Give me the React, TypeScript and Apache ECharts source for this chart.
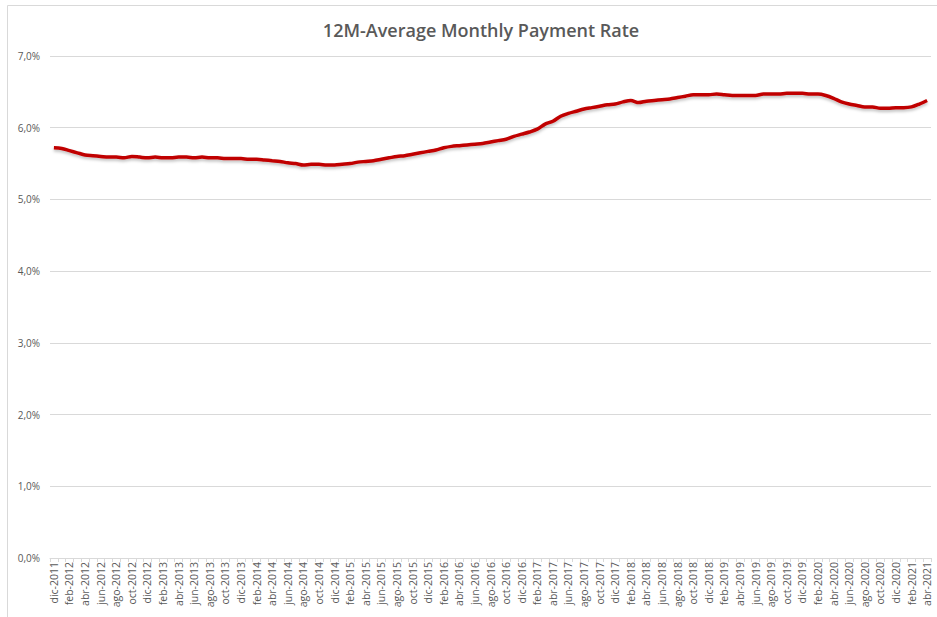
import React, { useEffect, useRef } from "react";
import * as echarts from "echarts";

const monthNames = ["ene", "feb", "mar", "abr", "may", "jun", "jul", "ago", "sep", "oct", "nov", "dic"];
const startYear = 2011;
const startMonth = 11; // dic
const titleText = "12M-Average Monthly Payment Rate";

// 12M-average monthly payment rate (%), dic-2011 .. abr-2021
const paymentRate = [
  5.72, 5.71, 5.68, 5.65, 5.62, 5.61, 5.60, 5.59, 5.59, 5.58, 5.60, 5.59,
  5.58, 5.59, 5.58, 5.58, 5.59, 5.59, 5.58, 5.59, 5.58, 5.58, 5.57, 5.57,
  5.57, 5.56, 5.56, 5.55, 5.54, 5.53, 5.51, 5.50, 5.48, 5.49, 5.49, 5.48,
  5.48, 5.49, 5.50, 5.52, 5.53, 5.54, 5.56, 5.58, 5.60, 5.61, 5.63, 5.65,
  5.67, 5.69, 5.72, 5.74, 5.75, 5.76, 5.77, 5.78, 5.80, 5.82, 5.84, 5.88,
  5.91, 5.94, 5.98, 6.05, 6.09, 6.16, 6.20, 6.23, 6.26, 6.28, 6.30, 6.32,
  6.33, 6.36, 6.38, 6.35, 6.37, 6.38, 6.39, 6.40, 6.42, 6.44, 6.46, 6.46,
  6.46, 6.47, 6.46, 6.45, 6.45, 6.45, 6.45, 6.47, 6.47, 6.47, 6.48, 6.48,
  6.48, 6.47, 6.47, 6.45, 6.41, 6.36, 6.33, 6.31, 6.29, 6.29, 6.27, 6.27,
  6.28, 6.28, 6.29, 6.33, 6.38,
];

const categories: string[] = paymentRate.map((_, i) => {
  const m = (startMonth + i) % 12;
  const y = startYear + Math.floor((startMonth + i) / 12);
  return `${monthNames[m]}-${y}`;
});

export default function App() {
  const ref = useRef<HTMLDivElement>(null);
  useEffect(() => {
    document.body.style.margin = "0";
    const chart = echarts.init(ref.current!, undefined, { renderer: "svg" });
    chart.setOption({
      animation: false,
      backgroundColor: "#ffffff",
      title: {
        text: titleText,
        left: 476,
        textAlign: "center",
        top: 16,
        textStyle: {
          fontFamily: "Open Sans",
          fontWeight: 600,
          fontSize: 18,
          color: "#595959",
        },
      },
      graphic: [
        {
          type: "rect",
          shape: { x: 7.5, y: 5.5, width: 940, height: 620 },
          style: { fill: "none", stroke: "#d9d9d9", lineWidth: 1 },
          silent: true,
        },
      ],
      grid: { left: 50, right: 6, top: 56, bottom: 59, containLabel: false },
      xAxis: {
        type: "category",
        data: categories,
        boundaryGap: true,
        axisLine: { lineStyle: { color: "#d9d9d9", width: 1 } },
        axisTick: { show: true, interval: 0, length: 4, lineStyle: { color: "#d9d9d9" } },
        axisLabel: {
          interval: 1,
          rotate: 90,
          fontFamily: "Open Sans",
          fontSize: 10.5,
          color: "#595959",
          margin: 4,
        },
        splitLine: { show: false },
      },
      yAxis: {
        type: "value",
        min: 0,
        max: 7,
        interval: 1,
        axisLine: { show: false },
        axisTick: { show: false },
        axisLabel: {
          fontFamily: "Open Sans",
          fontSize: 10,
          color: "#595959",
          margin: 10,
          formatter: (v: number) => v.toFixed(1).replace(".", ",") + "%",
        },
        splitLine: { lineStyle: { color: "#d9d9d9", width: 1 } },
      },
      series: [
        {
          type: "line",
          data: paymentRate,
          showSymbol: false,
          smooth: 0.3,
          lineStyle: {
            color: "#c00000",
            width: 3.5,
            shadowColor: "rgba(0,0,0,0.25)",
            shadowBlur: 3,
            shadowOffsetY: 2,
          },
          itemStyle: { color: "#c00000" },
        },
      ],
    });
    return () => chart.dispose();
  }, []);
  return <div ref={ref} style={{ position: "fixed", left: 0, top: 0, width: 937, height: 617 }} />;
}
